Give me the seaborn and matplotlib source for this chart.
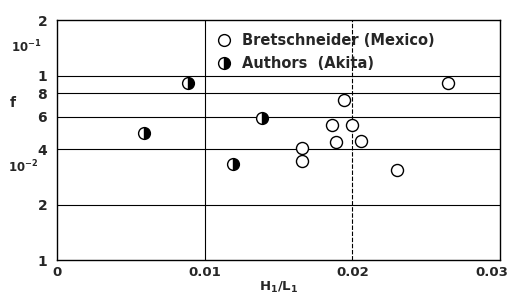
import numpy as np
import pandas as pd
import matplotlib
matplotlib.use('Agg')
import matplotlib.pyplot as plt
import matplotlib.transforms as mtrans
import seaborn as sns
from matplotlib.lines import Line2D

#-------------------------------------------------------------------------------
# data
#-------------------------------------------------------------------------------
mexico_x = [0.0265, 0.0194, 0.0186, 0.0200, 0.0189, 0.0206, 0.0166, 0.0166, 0.0230]
mexico_f = [0.091, 0.0736, 0.054, 0.054, 0.0436, 0.0442, 0.0405, 0.0344, 0.0307]
akita_x = [0.0089, 0.0059, 0.0139, 0.0119]
akita_f = [0.091, 0.049, 0.059, 0.033]

ytick_vals = [0.01, 0.02, 0.04, 0.06, 0.08, 0.1, 0.2]
ytick_labels = ['1', '2', '4', '6', '8', '1', '2']
xtick_vals = [0, 0.01, 0.02, 0.03]
xtick_labels = ['0', '0.01', '0.02', '0.03']

df_mex = pd.DataFrame({'x': mexico_x, 'f': mexico_f})
df_aki = pd.DataFrame({'x': akita_x, 'f': akita_f})

#-------------------------------------------------------------------------------
# plot
#-------------------------------------------------------------------------------
sns.set_style('white')
plt.rcParams['font.family'] = ['DejaVu Sans']
plt.rcParams['font.weight'] = 'bold'

fig = plt.figure(figsize=(5.13, 2.99), dpi=100)
ax = fig.add_axes([0.111, 0.130, 0.864, 0.803])

# grid lines
for v in [0.02, 0.04, 0.06, 0.08, 0.1]:
    ax.axhline(v, color='black', lw=0.8, zorder=1)
ax.axvline(0.01, color='black', lw=0.8, zorder=1)
ax.axvline(0.02, color='black', lw=0.8, ls=(0, (4, 1.5)), zorder=1)

sns.scatterplot(data=df_mex, x='x', y='f', ax=ax, marker='o', s=75,
                facecolor='white', edgecolor='black', linewidth=1.0, zorder=3)
ax.plot(df_aki['x'], df_aki['f'], ls='none', marker='o', ms=8.5,
        fillstyle='right', markerfacecolor='black', markerfacecoloralt='white',
        markeredgecolor='black', markeredgewidth=1.0, zorder=3)

ax.set_yscale('log')
ax.set_xlim(0, 0.03)
ax.set_ylim(0.01, 0.2)
ax.set_yticks(ytick_vals)
ax.set_yticklabels(ytick_labels)
ax.minorticks_off()
ax.set_xticks(xtick_vals)
ax.set_xticklabels(xtick_labels)
ax.tick_params(axis='y', length=0, labelsize=10, pad=7)
ax.tick_params(axis='x', length=0, labelsize=9.5, pad=4)
for lab in ax.get_xticklabels() + ax.get_yticklabels():
    lab.set_fontweight('bold')
# nudge last x label left so it stays inside the figure
last = ax.get_xticklabels()[-1]
last.set_transform(last.get_transform() + mtrans.ScaledTranslation(-6 / 72, 0, fig.dpi_scale_trans))

for sp in ax.spines.values():
    sp.set_color('black')
    sp.set_linewidth(1.0)

ax.set_xlabel('$\\mathbf{H_1/L_1}$', fontsize=9.5, labelpad=1)
ax.set_ylabel('')
fig.text(0.025, 0.655, 'f', fontsize=10, fontweight='bold', ha='center', va='center')
fig.text(0.052, 0.843, '10$^{\\mathbf{-1}}$', fontsize=8.5, fontweight='bold', ha='center', va='center')
fig.text(0.046, 0.44, '10$^{\\mathbf{-2}}$', fontsize=8.5, fontweight='bold', ha='center', va='center')

handles = [
    Line2D([], [], ls='none', marker='o', ms=8.5, markerfacecolor='white',
           markeredgecolor='black', markeredgewidth=1.0),
    Line2D([], [], ls='none', marker='o', ms=8.5, fillstyle='right',
           markerfacecolor='black', markerfacecoloralt='white',
           markeredgecolor='black', markeredgewidth=1.0),
]
ax.legend(handles, ['Bretschneider (Mexico)', 'Authors  (Akita)'],
          loc='upper left', bbox_to_anchor=(0.315, 1.0), frameon=False,
          prop={'weight': 'bold', 'size': 10.5},
          handletextpad=0.25, labelspacing=0.55)

fig.savefig('out.png', dpi=100)
